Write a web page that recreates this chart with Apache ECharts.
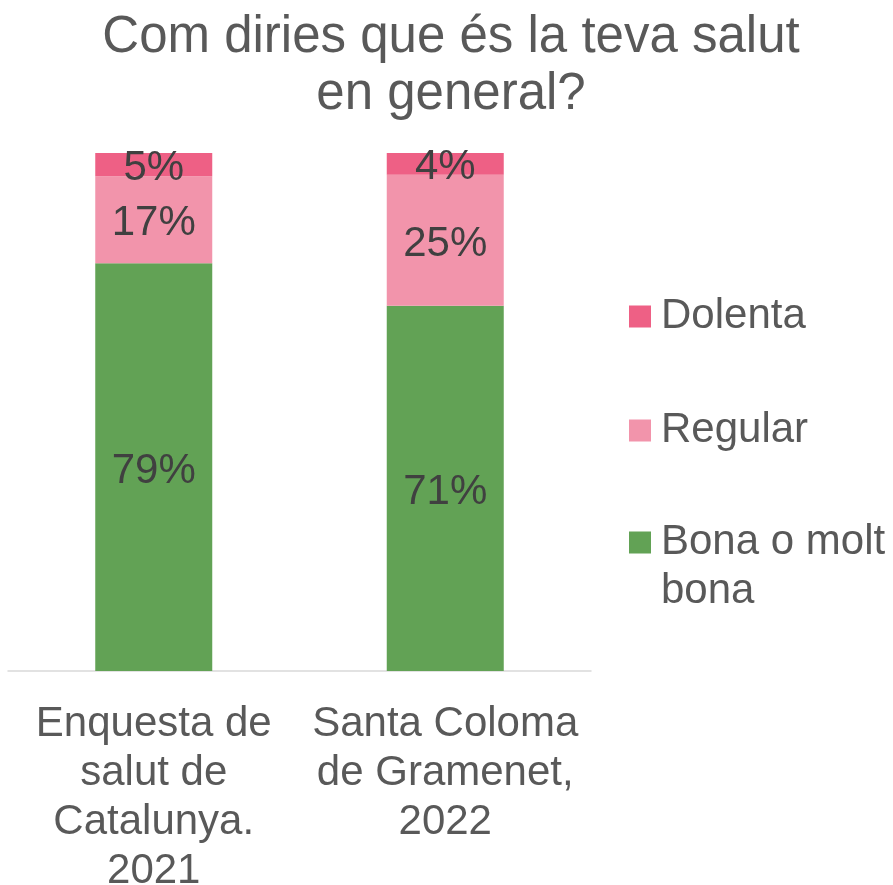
<!DOCTYPE html>
<html>
<head>
<meta charset="utf-8">
<script src="https://cdn.jsdelivr.net/npm/echarts@6/dist/echarts.min.js"></script>
<style>
    html, body { margin: 0; padding: 0; background: #fff; }
    #chart { width: 893px; height: 885px; }
</style>
</head>
<body>
<div id="chart"></div>
<script>
// dades
let categories = ['Enquesta de\nsalut de\nCatalunya.\n2021', 'Santa Coloma\nde Gramenet,\n2022'];
let bona = [78.7, 70.5];      // Bona o molt bona
let regular = [16.8, 25.3];   // Regular
let dolenta = [4.5, 4.2];     // Dolenta
let seriesNames = ['Bona o molt bona', 'Regular', 'Dolenta'];
let legendLabels = ['Bona o molt\nbona', 'Regular', 'Dolenta'];

let myChart = echarts.init(document.getElementById('chart'));

let font = 'Liberation Sans, Arial, sans-serif';
let colors = ['#62a255', '#f294ab', '#ee6085'];

function makeSeries(name, data, color) {
    return {
        name: name,
        type: 'bar',
        stack: 'total',
        barWidth: 117,
        data: data,
        itemStyle: { color: color },
        label: {
            show: true,
            position: 'inside',
            offset: [0, 4],
            fontSize: 42,
            fontFamily: font,
            color: '#404040',
            formatter: function (p) { return Math.round(p.value) + '%'; }
        }
    };
}

// una llegenda per element, per poder-les col·locar
// la icona: quadrat de 22px + espai invisible fins a 27px (i fins a 71px d'alt per al text de dues línies)
function makeLegend(i, top, tall) {
    let h = tall ? 71 : 22;
    return {
        orient: 'vertical',
        left: 629,
        top: top,
        padding: 0,
        itemWidth: 27,
        itemHeight: h,
        itemGap: 0,
        symbolKeepAspect: false,
        icon: 'path://M0,0H22V22H0ZM0,' + h + 'H27',
        data: [seriesNames[i]],
        formatter: function () { return legendLabels[i]; },
        textStyle: {
            fontSize: 42,
            lineHeight: 49,
            fontFamily: font,
            color: '#595959'
        }
    };
}

let option = {
    animation: false,
    title: {
        text: 'Com diries que és la teva salut\nen general?',
        left: 451,
        top: 9,
        padding: 0,
        textAlign: 'center',
        textStyle: {
            fontSize: 51,
            lineHeight: 57,
            fontWeight: 'normal',
            fontFamily: font,
            color: '#595959'
        }
    },
    legend: [
        makeLegend(2, 292),
        makeLegend(1, 406),
        makeLegend(0, 518, true)
    ],
    grid: {
        left: 8,
        right: 302,
        top: 153,
        bottom: 214,
        containLabel: false,
        outerBoundsMode: 'none'
    },
    xAxis: {
        type: 'category',
        data: categories,
        axisLine: { lineStyle: { color: '#d9d9d9', width: 1.5 } },
        axisTick: { show: false },
        axisLabel: {
            fontSize: 42,
            lineHeight: 49,
            fontFamily: font,
            color: '#595959',
            margin: 29,
            interval: 0
        }
    },
    yAxis: {
        type: 'value',
        min: 0,
        max: 100,
        show: false
    },
    series: [
        makeSeries(seriesNames[0], bona, colors[0]),
        makeSeries(seriesNames[1], regular, colors[1]),
        makeSeries(seriesNames[2], dolenta, colors[2])
    ]
};

myChart.setOption(option);
</script>
</body>
</html>
